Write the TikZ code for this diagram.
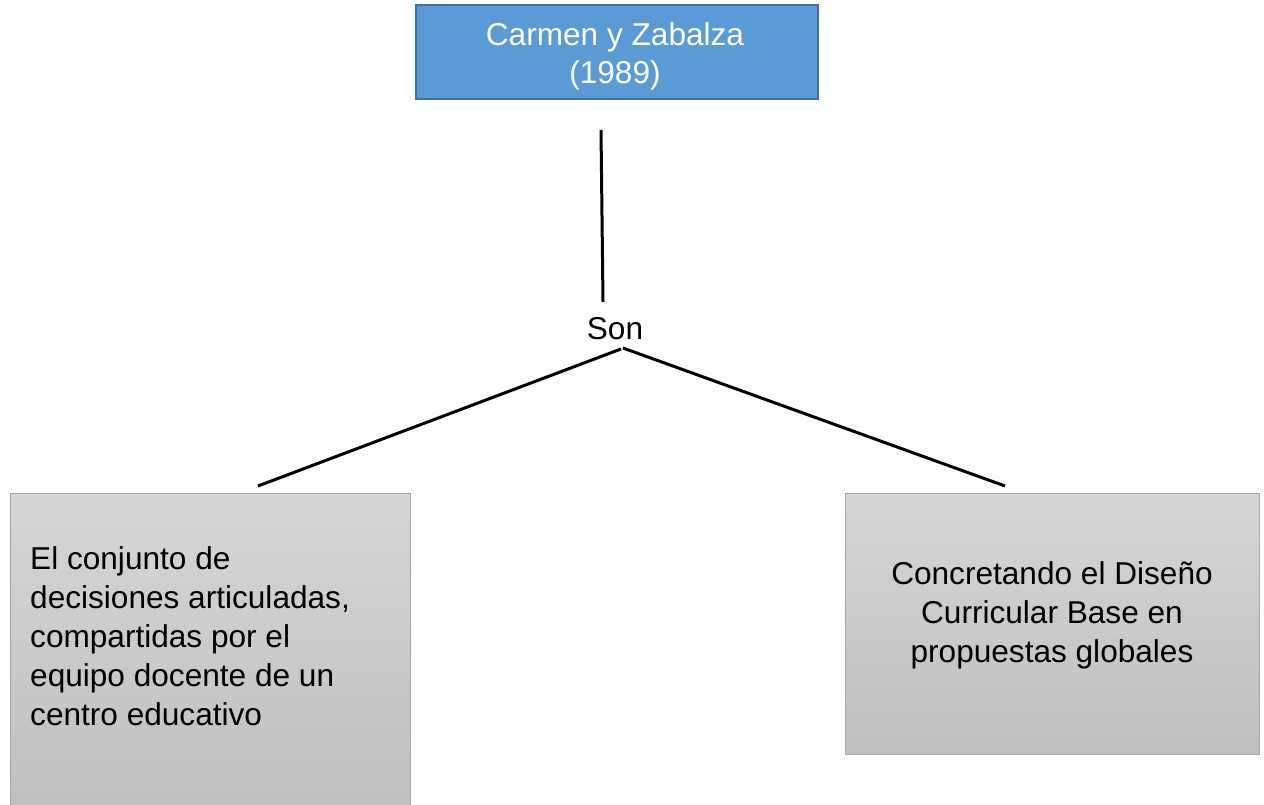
\documentclass[tikz,border=0pt]{standalone}
\usepackage{fontspec}
\setmainfont{Liberation Sans}
\definecolor{topfill}{HTML}{5B9BD5}
\definecolor{topdraw}{HTML}{41719C}
\definecolor{grayA}{HTML}{D6D6D6}
\definecolor{grayB}{HTML}{BFBFBF}
\definecolor{grayEdge}{HTML}{A6A6A6}
\begin{document}
\begin{tikzpicture}[x=1pt,y=-1pt,
  topbox/.style={draw=topdraw,line width=2pt,fill=topfill,inner sep=0pt,anchor=north west},
  graybox/.style={draw=grayEdge,line width=1pt,top color=grayA,bottom color=grayB,inner sep=0pt,anchor=north west},
  txt/.style={font=\fontsize{31.6}{39}\selectfont,inner sep=0pt},
  conn/.style={line width=3pt,black}]
\useasboundingbox (0,0) rectangle (1264,805);
\node[topbox,minimum width=402pt,minimum height=94pt] (top) at (415,4) {};
\node[txt,text=white,align=center,font=\fontsize{31.6}{38}\selectfont] (toptxt) at (615,56) {Carmen y Zabalza\\(1989)};
\node[graybox,minimum width=400pt,minimum height=320pt] (left) at (10,493) {};
\node[txt,align=left,anchor=north west] (lefttxt) at (30,546) {El conjunto de\\decisiones articuladas,\\compartidas por el\\equipo docente de un\\centro educativo};
\node[graybox,minimum width=414pt,minimum height=261pt] (right) at (845,493) {};
\node[txt,align=center] (righttxt) at (1052,615) {Concretando el Diseño\\Curricular Base en\\propuestas globales};
\node[txt] (son) at (615,329) {Son};
\coordinate (v1) at (601,130);
\coordinate (v2) at (603,302);
\coordinate (sl) at (621,349);
\coordinate (sr) at (623,348);
\coordinate (el) at (258,486);
\coordinate (er) at (1005,486);
\draw[conn] (v1) -- (v2);
\draw[conn] (sl) -- (el);
\draw[conn] (sr) -- (er);
\end{tikzpicture}
\end{document}
